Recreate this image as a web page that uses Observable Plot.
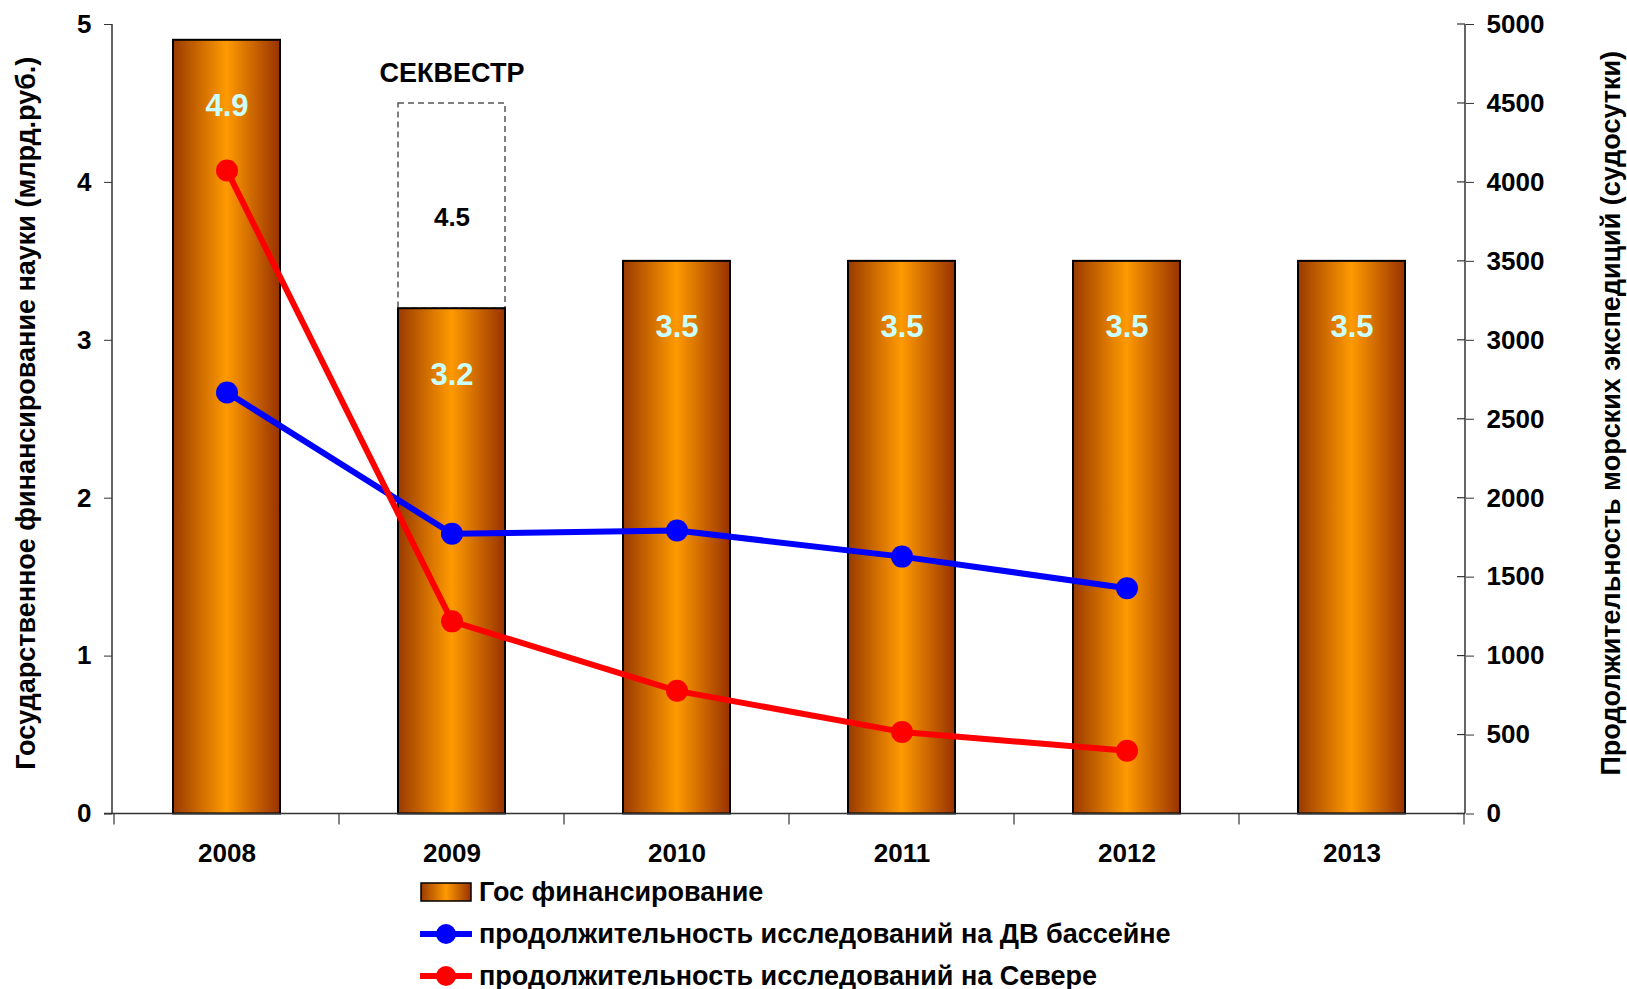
<!DOCTYPE html>
<html>
<head>
<meta charset="utf-8">
<script src="https://cdn.jsdelivr.net/npm/d3@7"></script>
<script src="https://cdn.jsdelivr.net/npm/@observablehq/plot@0.6"></script>
<style>
  body { margin: 0; background: #fff; }
  #wrap { position: relative; width: 1627px; height: 989px; font-family: "Liberation Sans", Arial, sans-serif; font-weight: bold; }
  #legend { position: absolute; left: 420px; top: 871px; font-size: 27px; color: #000; }
  .row { display: flex; align-items: center; height: 42px; white-space: nowrap; }
  .row svg { margin-right: 7px; flex: none; }
</style>
</head>
<body>
<div id="wrap">
  <div id="chart"></div>
  <div id="legend"></div>
</div>
<script>
// Государственное финансирование науки, млрд руб.
const years = ["2008", "2009", "2010", "2011", "2012", "2013"];
const funding = [4.9, 3.2, 3.5, 3.5, 3.5, 3.5];

// Планируемый объём 2009 г. до секвестра
const plannedYear = "2009";
const plannedFunding = 4.5;
const sequesterLabel = "СЕКВЕСТР";

// Продолжительность морских экспедиций, судосутки
const lineYears = ["2008", "2009", "2010", "2011", "2012"];
const farEastDays = [2670, 1775, 1795, 1630, 1430];
const northDays = [4075, 1220, 780, 520, 400];

// Оси
const leftTicks = [0, 1, 2, 3, 4, 5];
const rightTicks = [0, 500, 1000, 1500, 2000, 2500, 3000, 3500, 4000, 4500, 5000];
const daysPerUnit = 1000; // 5 млрд руб. на левой оси соответствуют 5000 судосуток на правой

const leftTitle = "Государственное финансирование науки (млрд.руб.)";
const rightTitle = "Продолжительность морских экспедиций (судосутки)";
const seriesNames = [
  "Гос финансирование",
  "продолжительность исследований на ДВ бассейне",
  "продолжительность исследований на Севере"
];
const lineColors = ["#0000ff", "#ff0000"];

// Таблицы для меток
const bars = years.map((year, i) => ({year, value: funding[i]}));
const actualPlannedYear = funding[years.indexOf(plannedYear)];
const planned = [{year: plannedYear, y1: actualPlannedYear, y2: plannedFunding}];
const farEast = lineYears.map((year, i) => ({year, days: farEastDays[i]}));
const north = lineYears.map((year, i) => ({year, days: northDays[i]}));

// Горизонтальный градиент «цилиндра» для столбиков
function addStops(grad) {
  grad.append("stop").attr("offset", "0%").attr("stop-color", "#9a3a00");
  grad.append("stop").attr("offset", "50%").attr("stop-color", "#ff9a00");
  grad.append("stop").attr("offset", "100%").attr("stop-color", "#983200");
}
function gradientDefs() {
  const defs = d3.create("svg:defs");
  addStops(defs.append("linearGradient").attr("id", "bar-grad")
    .attr("x1", 0).attr("x2", 1).attr("y1", 0).attr("y2", 0));
  return defs.node();
}

// Линии осей, засечки на границах категорий и двусторонние засечки правой оси
function axisFrame(index, scales, values, dims) {
  const {x, y} = scales;
  const left = dims.marginLeft;
  const right = dims.width - dims.marginRight;
  const step = x.step ? x.step() : (right - left) / years.length;
  const bw = x.bandwidth ? x.bandwidth() : 0;
  const y0 = y(0), yTop = y(5);
  const g = d3.create("svg:g").attr("stroke", "#333").attr("fill", "none");
  g.append("line").attr("x1", left).attr("x2", left).attr("y1", y0).attr("y2", yTop).attr("stroke-width", 1.5);
  g.append("line").attr("x1", right).attr("x2", right).attr("y1", y0).attr("y2", yTop).attr("stroke-width", 1.5);
  g.append("line").attr("x1", left - 8).attr("x2", right).attr("y1", y0).attr("y2", y0).attr("stroke-width", 1.5);
  const bounds = years.map(yr => x(yr) + bw / 2 - step / 2);
  bounds.push(bounds[bounds.length - 1] + step);
  for (const bx of bounds) {
    g.append("line").attr("x1", bx).attr("x2", bx).attr("y1", y0).attr("y2", y0 + 11).attr("stroke-width", 1.2);
  }
  for (const t of rightTicks) {
    const ty = y(t / daysPerUnit);
    g.append("line").attr("x1", right - 8).attr("x2", right).attr("y1", ty).attr("y2", ty).attr("stroke-width", 1.2);
  }
  return g.node();
}

const chart = Plot.plot({
  width: 1627,
  height: 870,
  marginTop: 24,
  marginBottom: 56.5,
  marginLeft: 112,
  marginRight: 162,
  style: {fontFamily: "'Liberation Sans', Arial, sans-serif", fontWeight: "bold", fontSize: "26px", color: "#000", background: "#fff"},
  x: {type: "band", domain: years, paddingInner: 0.526, paddingOuter: 0.263, label: null},
  y: {domain: [0, 5], label: null},
  marks: [
    gradientDefs,
    Plot.barY(planned, {x: "year", y1: "y1", y2: "y2", fill: "none", stroke: "#555", strokeWidth: 1.5, strokeDasharray: "6,4"}),
    Plot.barY(bars, {x: "year", y: "value", fill: "url(#bar-grad)", stroke: "#000", strokeWidth: 2}),
    axisFrame,
    Plot.text(bars, {x: "year", y: "value", text: d => d.value.toFixed(1), dy: 66, fill: "#ccffff", fontSize: 31, fontWeight: "bold"}),
    Plot.text(planned, {x: "year", y: d => (d.y1 + d.y2) / 2, text: d => d.y2.toFixed(1), dy: 12, fill: "#000", fontSize: 26, fontWeight: "bold"}),
    Plot.text(planned, {x: "year", y: "y2", text: () => sequesterLabel, dy: -30, fill: "#000", fontSize: 27, fontWeight: "bold"}),
    Plot.line(farEast, {x: "year", y: d => d.days / daysPerUnit, stroke: lineColors[0], strokeWidth: 6}),
    Plot.dot(farEast, {x: "year", y: d => d.days / daysPerUnit, r: 11, fill: lineColors[0]}),
    Plot.line(north, {x: "year", y: d => d.days / daysPerUnit, stroke: lineColors[1], strokeWidth: 6}),
    Plot.dot(north, {x: "year", y: d => d.days / daysPerUnit, r: 11, fill: lineColors[1]}),
    Plot.axisY({anchor: "left", ticks: leftTicks, tickFormat: d => String(d), tickSize: 8, tickPadding: 13, fontSize: 26, label: null, stroke: "#333"}),
    Plot.axisY({anchor: "right", ticks: rightTicks.map(t => t / daysPerUnit), tickFormat: d => String(Math.round(d * daysPerUnit)), tickSize: 8, tickPadding: 13, fontSize: 26, label: null, stroke: "#333"}),
    Plot.axisX({anchor: "bottom", tickSize: 0, tickPadding: 30, fontSize: 26, label: null}),
    Plot.text([leftTitle], {frameAnchor: "left", textAnchor: "middle", dx: -86, dy: -6, rotate: -90, fontSize: 27, fontWeight: "bold", fill: "#000"}),
    Plot.text([rightTitle], {frameAnchor: "right", textAnchor: "middle", dx: 146, dy: -6, rotate: -90, fontSize: 27, fontWeight: "bold", fill: "#000"})
  ]
});
document.getElementById("chart").appendChild(chart);

// Легенда под графиком
const legend = d3.select("#legend");
const barRow = legend.append("div").attr("class", "row");
const bsvg = barRow.append("svg").attr("width", 52).attr("height", 42);
addStops(bsvg.append("defs").append("linearGradient").attr("id", "legend-grad"));
bsvg.append("rect").attr("x", 1).attr("y", 12).attr("width", 50).attr("height", 18)
  .attr("fill", "url(#legend-grad)").attr("stroke", "#000").attr("stroke-width", 1.5);
barRow.append("span").text(seriesNames[0]);
lineColors.forEach((c, i) => {
  const row = legend.append("div").attr("class", "row");
  const s = row.append("svg").attr("width", 52).attr("height", 42);
  s.append("line").attr("x1", 0).attr("x2", 52).attr("y1", 21).attr("y2", 21).attr("stroke", c).attr("stroke-width", 6);
  s.append("circle").attr("cx", 26).attr("cy", 21).attr("r", 10).attr("fill", c);
  row.append("span").text(seriesNames[i + 1]);
});
</script>
</body>
</html>
